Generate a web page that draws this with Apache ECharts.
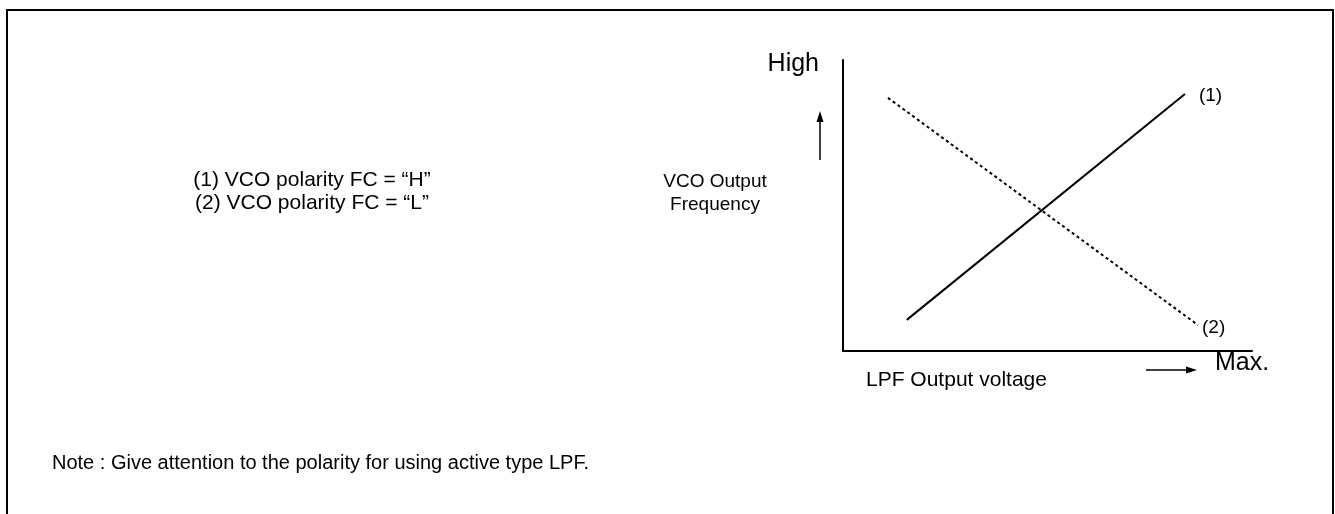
<!DOCTYPE html>
<html>
<head>
<meta charset="utf-8">
<script src="https://cdn.jsdelivr.net/npm/echarts@6/dist/echarts.min.js"></script>
<style>
  html, body { margin: 0; padding: 0; background: #fff; }
  #main { width: 1335px; height: 514px; }
</style>
</head>
<body>
<div id="main"></div>
<script>
var chart = echarts.init(document.getElementById('main'))

// line (1): VCO polarity FC = "H" -> rising
var lineH = [[15.6, 10.7], [83.6, 88.3]]
// line (2): VCO polarity FC = "L" -> falling
var lineL = [[11, 87], [86.8, 8.9]]
var lineNames = ['(1)', '(2)']
var legendText = ['(1) VCO polarity FC = \u201cH\u201d', '(2) VCO polarity FC = \u201cL\u201d']

var font = '"Liberation Sans", Arial, sans-serif'

function txt(x, y, s, size, align) {
  return {
    type: 'text', x: x, y: y,
    style: { text: s, fill: '#000', font: size + 'px ' + font, textAlign: align || 'center', textVerticalAlign: 'middle' }
  }
}

var option = {
  backgroundColor: '#fff',
  animation: false,
  grid: { left: 843, right: 83, top: 60, bottom: 163 },
  xAxis: {
    type: 'value', min: 0, max: 100,
    axisLine: { lineStyle: { color: '#000', width: 2 } },
    axisTick: { show: false },
    axisLabel: { show: false },
    splitLine: { show: false }
  },
  yAxis: {
    type: 'value', min: 0, max: 100,
    axisLine: { show: true, lineStyle: { color: '#000', width: 2 } },
    axisTick: { show: false },
    axisLabel: { show: false },
    splitLine: { show: false }
  },
  series: [
    {
      name: lineNames[0],
      type: 'line',
      data: lineH,
      symbol: 'none',
      lineStyle: { color: '#000', width: 2 },
      endLabel: {
        show: true, formatter: lineNames[0], distance: 14, offset: [0, 2],
        color: '#000', fontSize: 19, fontFamily: font
      }
    },
    {
      name: lineNames[1],
      type: 'line',
      data: lineL,
      symbol: 'none',
      lineStyle: { color: '#000', width: 2, type: [3, 3] },
      endLabel: {
        show: true, formatter: lineNames[1], distance: 4, offset: [0, 3],
        color: '#000', fontSize: 19, fontFamily: font
      }
    }
  ],
  graphic: [
    // frame
    { type: 'rect', shape: { x: 7, y: 10, width: 1326, height: 520 },
      style: { fill: 'none', stroke: '#000', lineWidth: 2 } },
    // legend texts
    txt(312, 180, legendText[0], 21),
    txt(312, 203, legendText[1], 21),
    // y axis label
    txt(715, 182, 'VCO Output', 19),
    txt(715, 205, 'Frequency', 19),
    txt(819, 64, 'High', 25, 'right'),
    // up arrow
    { type: 'line', shape: { x1: 820, y1: 160, x2: 820, y2: 120 }, style: { stroke: '#000', lineWidth: 1.5 } },
    { type: 'polygon', shape: { points: [[820, 111], [816.5, 122], [823.5, 122]] }, style: { fill: '#000' } },
    // x axis label
    txt(866, 380, 'LPF Output voltage', 21, 'left'),
    { type: 'line', shape: { x1: 1146, y1: 370, x2: 1187, y2: 370 }, style: { stroke: '#000', lineWidth: 1.5 } },
    { type: 'polygon', shape: { points: [[1197, 370], [1186, 366.5], [1186, 373.5]] }, style: { fill: '#000' } },
    txt(1215, 363, 'Max.', 25, 'left'),
    // note
    txt(52, 463, 'Note : Give attention to the polarity for using active type LPF.', 20, 'left')
  ]
}

chart.setOption(option)
</script>
</body>
</html>
